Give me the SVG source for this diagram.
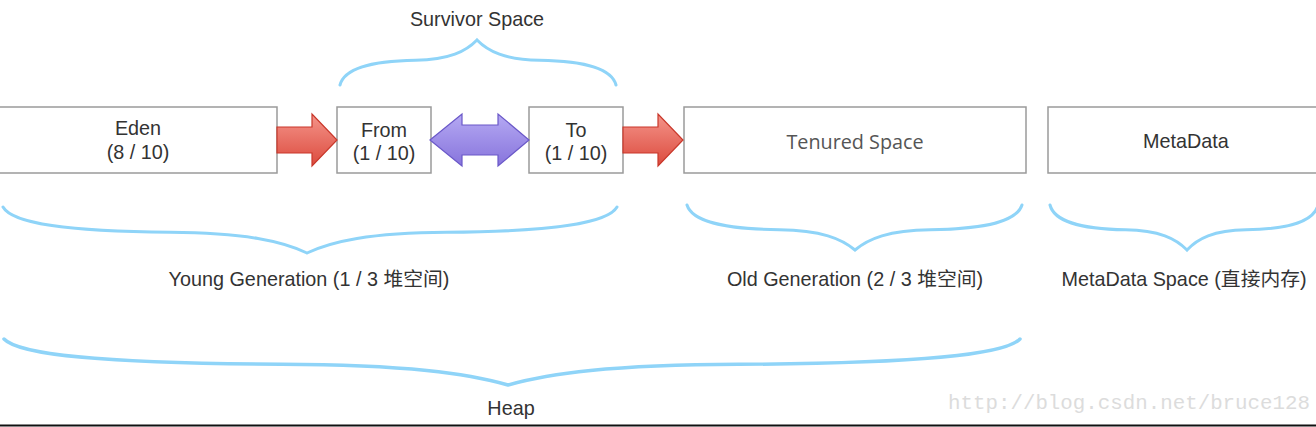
<svg xmlns="http://www.w3.org/2000/svg" width="1316" height="427" viewBox="0 0 1316 427">
<defs>
<linearGradient id="red" x1="0" y1="0" x2="0" y2="1">
<stop offset="0" stop-color="#f4948a"/><stop offset="1" stop-color="#dc4b3e"/>
</linearGradient>
<linearGradient id="purple" x1="0" y1="0" x2="0" y2="1">
<stop offset="0" stop-color="#b5a9f3"/><stop offset="1" stop-color="#8774dc"/>
</linearGradient>
</defs>
<style>
.box{fill:#fff;stroke:#9a9a9a;stroke-width:1.5}
.t{font-family:"Liberation Sans",Arial,"Noto Sans CJK SC",sans-serif;font-size:19.8px;fill:#333;text-anchor:middle}
.t2{font-family:"Open Sans","Liberation Sans",sans-serif;font-size:19.8px;fill:#555;text-anchor:middle}
.brace{fill:none;stroke:#8fd4f8;stroke-width:3;stroke-linecap:round}
.red{fill:url(#red);stroke:#c9372a;stroke-width:1.2}
.pur{fill:url(#purple);stroke:#6a58c8;stroke-width:1.2}
.wm{font-family:"Liberation Mono",monospace;font-size:21px;fill:#dcdcdc}
</style>
<rect width="1316" height="427" fill="#fff"/>

<g id="eden"><rect class="box" x="-1" y="107" width="278" height="66"/><text class="t" x="138" y="135">Eden</text><text class="t" x="138" y="159">(8 / 10)</text></g>
<g id="from"><rect class="box" x="337" y="107" width="94" height="66"/><text class="t" x="384" y="137">From</text><text class="t" x="384" y="160">(1 / 10)</text></g>
<g id="to"><rect class="box" x="529" y="107" width="94" height="66"/><text class="t" x="576" y="137">To</text><text class="t" x="576" y="160">(1 / 10)</text></g>
<g id="tenured"><rect class="box" x="684" y="107" width="342" height="66"/><text class="t2" x="855" y="149">Tenured Space</text></g>
<g id="metadata"><rect class="box" x="1048" y="107" width="280" height="66"/><text class="t" x="1186" y="148">MetaData</text></g>

<g id="connectors">
<polygon class="red" points="277,127 312,127 312,114 337,140 312,166 312,153 277,153"/>
<polygon class="pur" points="430,140 462,114 462,125 498,125 498,114 529,140 498,166 498,155 462,155 462,166"/>
<polygon class="red" points="623,127 658,127 658,114 683,140 658,166 658,153 623,153"/>
</g>

<g id="braces">
<path class="brace" d="M340,85 C344.1,69.3 367.4,61.2 415.4,60.3 C449.6,59.8 466,51.3 477,40 C488.1,51.3 504.8,59.8 539.6,60.3 C588.2,61.2 611.8,69.3 616,85"/>
<path class="brace" d="M3,207 C12.1,223.1 63.8,231.4 170.2,232.3 C246.2,232.8 282.7,241.5 307,253 C331.8,241.5 369,232.8 446.5,232.3 C555,231.4 607.7,223.1 617,207"/>
<path class="brace" d="M687,205 C692,220.8 720.6,228.9 779.4,229.8 C821.4,230.2 841.6,238.8 855,250 C868.4,238.8 888.4,230.2 930.2,229.8 C988.6,228.9 1017,220.8 1022,205"/>
<path class="brace" d="M1050,205 C1054.1,220.8 1077.4,228.9 1125.4,229.8 C1159.6,230.2 1176,238.8 1187,250 C1197.5,238.8 1213.2,230.2 1246,229.8 C1291.8,228.9 1314.1,220.8 1318,205"/>
<path class="brace" style="stroke-width:3.5" d="M4,339 C19.1,355.1 104.8,363.4 281.2,364.3 C407.2,364.8 467.7,373.5 508,385 C549,373.5 610.4,364.8 738.4,364.3 C917.6,363.4 1004.6,355.1 1020,339"/>
</g>

<g id="labels">
<text class="t" x="477" y="26">Survivor Space</text>
<text class="t" x="309" y="286">Young Generation (1 / 3 堆空间)</text>
<text class="t" x="855" y="286">Old Generation (2 / 3 堆空间)</text>
<text class="t" x="1184" y="286">MetaData Space (直接内存)</text>
<text class="t" x="511" y="415">Heap</text>
<text class="wm" x="948" y="409" textLength="362" lengthAdjust="spacingAndGlyphs">http://blog.csdn.net/bruce128</text>
</g>
<line x1="0" y1="425.5" x2="1316" y2="425.5" stroke="#111" stroke-width="2"/>
</svg>
